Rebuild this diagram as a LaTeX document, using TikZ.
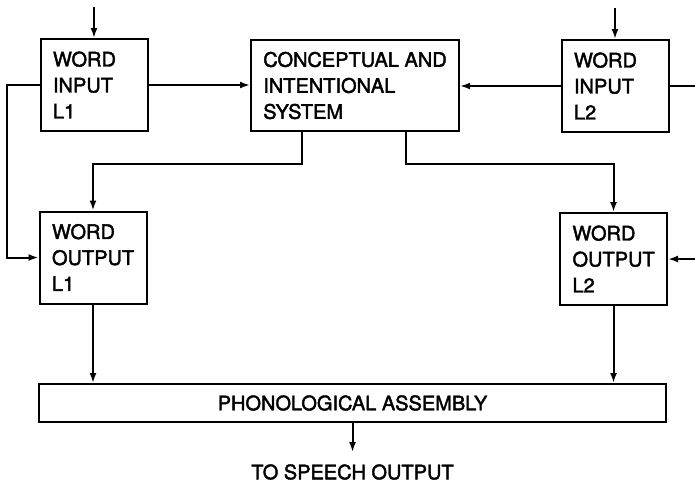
\documentclass[tikz,border=0pt]{standalone}
\usepackage{fontspec}
\setmainfont{TeX Gyre Heros}
\newfontfamily\medfont[UprightFeatures={FakeBold=2}]{TeX Gyre Heros}
\usetikzlibrary{arrows.meta}
\begin{document}
\begin{tikzpicture}[x=1pt,y=-1pt,
  every node/.style={font=\medfont\fontsize{20}{26}\selectfont},
  blk/.style={draw, line width=2pt, rectangle, inner xsep=12.5pt, inner ysep=0pt, align=left},
  wbox/.style={blk, minimum width=107pt, minimum height=92pt, text width=82pt},
  conn/.style={line width=2pt},
  arr/.style={conn, -{Latex[length=10pt,width=7pt]}}
]
\useasboundingbox (0,0) rectangle (695,485);
\node[wbox] (wi1) at (94,85) {WORD\\INPUT\\L1};
\node[blk, inner xsep=12pt, minimum width=208pt, minimum height=91pt] (cis) at (355,85.5) {CONCEPTUAL AND\\INTENTIONAL\\SYSTEM};
\node[wbox] (wi2) at (615,86) {WORD\\INPUT\\L2};
\node[wbox] (wo1) at (93,257.5) {WORD\\OUTPUT\\L1};
\node[wbox] (wo2) at (613.5,259) {WORD\\OUTPUT\\L2};
\node[blk, align=center, minimum width=627pt, minimum height=38pt] (phon) at (352.5,403) {PHONOLOGICAL ASSEMBLY};
\node[inner sep=0pt] (speech) at (352.5,472) {TO SPEECH OUTPUT};

\coordinate (in1) at (94,7);
\coordinate (in2) at (615,8);
\coordinate (out2) at (695,85);
\coordinate (in3) at (695,259);
\coordinate (so) at (352.5,452);

\draw[arr] (in1) -- (wi1.north);
\draw[arr] (in2) -- (wi2.north);
\draw[arr] (wi1.east) -- (wi1.east -| cis.west);
\draw[arr] (wi2.west) -- (wi2.west -| cis.east);
\draw[conn] (wi2.east) -- (wi2.east -| out2);
\draw[arr] (wi1.west) -- ++(-33,0) |- (wo1.west);
\draw[arr] ([xshift=-53pt]cis.south) -- ++(0,32) -| (wo1.north);
\draw[arr] ([xshift=51pt]cis.south) -- ++(0,32) -| (wo2.north);
\draw[arr] (in3) -- (wo2.east);
\draw[arr] (wo1.south) -- (wo1.south |- phon.north);
\draw[arr] (wo2.south) -- (wo2.south |- phon.north);
\draw[arr] (phon.south) -- (so);
\end{tikzpicture}
\end{document}
